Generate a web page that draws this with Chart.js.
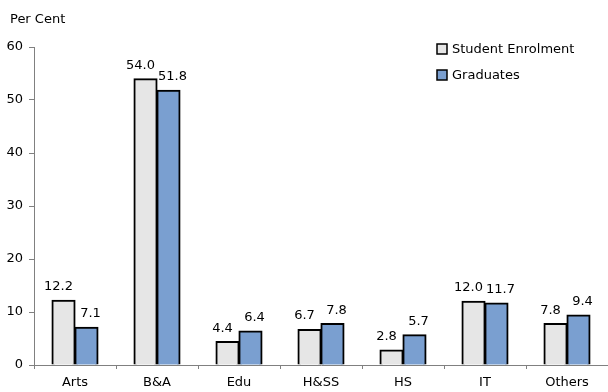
<!DOCTYPE html>
<html>
<head>
<meta charset="utf-8">
<script src="https://cdn.jsdelivr.net/npm/chart.js@4"></script>
<style>
  html, body { margin: 0; padding: 0; background: #fff; }
  #wrap { width: 608px; height: 392px; position: relative; }
</style>
</head>
<body>
<div id="wrap"><canvas id="chart"></canvas></div>
<script>
const categories = ['Arts', 'B&A', 'Edu', 'H&SS', 'HS', 'IT', 'Others'];
const enrolment  = [12.2, 54.0, 4.4, 6.7, 2.8, 12.0, 7.8];
const graduates  = [7.1, 51.8, 6.4, 7.8, 5.7, 11.7, 9.4];
const yTicks     = [0, 10, 20, 30, 40, 50, 60];

const FONT = 'DejaVu Sans, Verdana, sans-serif';

// value labels above each bar, pushed slightly apart so pairs don't collide
const barLabels = {
  id: 'barLabels',
  afterDatasetsDraw(chart) {
    const { ctx } = chart;
    ctx.save();
    ctx.font = '13px ' + FONT;
    ctx.fillStyle = '#000';
    ctx.textAlign = 'center';
    ctx.textBaseline = 'bottom';
    chart.data.datasets.forEach((ds, di) => {
      const shift = di === 0 ? -5 : 4;
      chart.getDatasetMeta(di).data.forEach((bar, i) => {
        ctx.fillText(ds.data[i].toFixed(1), bar.x + shift, bar.y - 7);
      });
    });
    ctx.restore();
  },
};

// "Per Cent" caption and the boxed legend in the top right
const extras = {
  id: 'extras',
  afterDraw(chart) {
    const { ctx } = chart;
    ctx.save();
    ctx.font = '13px ' + FONT;
    ctx.fillStyle = '#000';
    ctx.textBaseline = 'middle';
    ctx.fillText('Per Cent', 10, 20);
    chart.data.datasets.forEach((ds, i) => {
      const y = 49 + i * 26;
      ctx.fillStyle = ds.backgroundColor;
      ctx.fillRect(437, y - 5, 10, 10);
      ctx.strokeStyle = '#000';
      ctx.lineWidth = 1.5;
      ctx.strokeRect(437, y - 5, 10, 10);
      ctx.fillStyle = '#000';
      ctx.fillText(ds.label, 452, y + 1);
    });
    ctx.restore();
  },
};

new Chart(document.getElementById('chart'), {
  type: 'bar',
  data: {
    labels: categories,
    datasets: [
      { label: 'Student Enrolment', data: enrolment, backgroundColor: '#e6e6e6', borderColor: '#000', borderWidth: 2, inflateAmount: 0.6 },
      { label: 'Graduates',         data: graduates, backgroundColor: '#7a9fd0', borderColor: '#000', borderWidth: 2, inflateAmount: 0.6 },
    ],
  },
  options: {
    animation: false,
    responsive: true,
    maintainAspectRatio: false,
    categoryPercentage: 0.56,
    barPercentage: 1.0,
    layout: { padding: { top: 47, right: 0, left: 0, bottom: 0 } },
    plugins: {
      legend: { display: false },
      tooltip: { enabled: false },
    },
    scales: {
      x: {
        grid: { drawOnChartArea: false, drawTicks: true, tickLength: 4, color: '#808080' },
        border: { color: '#808080', width: 1 },
        ticks: { color: '#000', font: { family: FONT, size: 13 }, padding: 6 },
        afterFit: (s) => { s.height = 27; },
      },
      y: {
        min: 0,
        max: 60,
        afterBuildTicks: (s) => { s.ticks = yTicks.map((v) => ({ value: v })); },
        grid: { drawOnChartArea: false, drawTicks: true, tickLength: 5, color: '#808080' },
        border: { color: '#808080', width: 1 },
        ticks: { color: '#000', font: { family: FONT, size: 13 }, padding: 6 },
        afterFit: (s) => { s.width = 34; },
      },
    },
  },
  plugins: [barLabels, extras],
});
</script>
</body>
</html>
